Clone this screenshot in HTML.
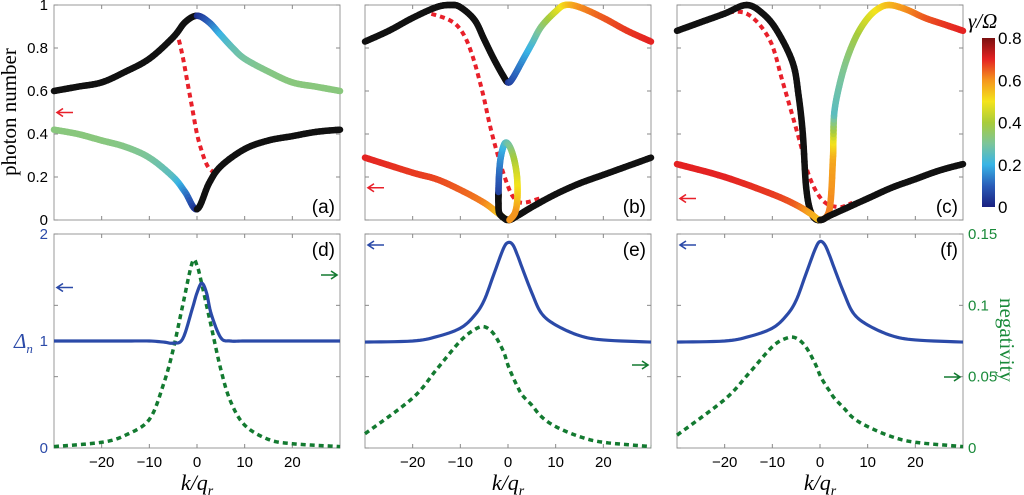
<!DOCTYPE html>
<html><head><meta charset="utf-8">
<style>
html,body{margin:0;padding:0;background:#fff;}
svg{display:block;}
text{font-family:"Liberation Sans",sans-serif;}
.serif{font-family:"Liberation Serif",serif;}
</style></head>
<body>
<svg id="fig" width="1024" height="495" viewBox="0 0 1024 495" xmlns="http://www.w3.org/2000/svg">
<defs>
<linearGradient id="cbgrad" x1="0" y1="1" x2="0" y2="0">
<stop offset="0" stop-color="#1a2080"/><stop offset="0.125" stop-color="#2a5cb8"/><stop offset="0.25" stop-color="#38b4e6"/><stop offset="0.375" stop-color="#7cc59a"/><stop offset="0.5" stop-color="#a8cc3a"/><stop offset="0.625" stop-color="#f4e41c"/><stop offset="0.75" stop-color="#f5961e"/><stop offset="0.875" stop-color="#e42222"/><stop offset="1" stop-color="#7a1010"/>
</linearGradient>
</defs>
<g id="layer"></g>
<text class="serif" x="16" y="112" font-size="21" text-anchor="middle" transform="rotate(-90 16 112)">photon number</text>
<text class="serif" x="14" y="348" font-size="21" fill="#2b4aa8" font-style="italic">Δ<tspan font-size="13" dy="5">n</tspan></text>
<text class="serif" x="1000" y="340" font-size="21" fill="#1a8a3a" text-anchor="middle" transform="rotate(90 1000 340)">negativity</text>
<text class="serif" x="968" y="28" font-size="21" font-style="italic">γ/Ω</text>
<rect x="982" y="38" width="13" height="169" fill="url(#cbgrad)"/>
</svg>
<script>
// ---------- data ----------
const xTicks=[-20,-10,0,10,20];
const yTicksTop=[0,0.2,0.4,0.6,0.8,1];
const yTicksLeftBottom=[0,1,2];
const yTicksRightBottom=[0,0.05,0.1,0.15];
const cbTicks=[0,0.2,0.4,0.6,0.8];
// panel (a)
const aUpK=[-30,-25,-20,-15,-10,-5,-2.5,0,2.5,5,7.5,10,15,20,25,30];
const aUpN=[.60,.62,.64,.69,.75,.85,.92,.95,.92,.86,.80,.75,.69,.64,.62,.60];
const aUpG=[null,null,null,null,null,null,null,.02,.1,.2,.26,.29,.32,.33,.33,.33];
const aLoK=[-30,-25,-20,-15,-10,-5,-2.5,0,2.5,5,10,15,20,25,30];
const aLoN=[.42,.40,.37,.34,.29,.2,.13,.05,.17,.25,.33,.37,.39,.41,.42];
const aLoG=[.33,.33,.33,.32,.3,.25,.15,.02,null,null,null,null,null,null,null];
const aDK=[-4.9,-4,-3,-2,-1,0,1,2,3,4.2];
const aDN=[.87,.85,.76,.64,.52,.40,.32,.26,.23,.22];
// panel (b)
const bUpK=[-30,-25,-20,-15,-12,-10,-7,-5,-3,-1,0,1,3,5,7,10,12,15,20,25,30];
const bUpN=[.83,.88,.94,.99,1,.99,.93,.84,.75,.67,.64,.66,.74,.82,.9,.97,1,.99,.94,.88,.83];
const bUpG=[null,null,null,null,null,null,null,null,null,null,.03,.08,.15,.22,.32,.45,.52,.6,.65,.68,.7];
const bLoK=[-30,-20,-15,-10,-5,-2,0,2,5,10,15,20,25,30];
const bLoN=[.29,.22,.19,.14,.08,.03,0,.02,.06,.12,.17,.21,.25,.29];
const bLoG=[.7,.68,.67,.65,.62,.55,.5,null,null,null,null,null,null,null];
const bLpK=[-0.3,-1.8,-2.0,-2.0,-2.0,-1.9,-1.6,-1.0,-0.4,0.4,1.2,1.8,2.0,1.9,1.4,0.3];
const bLpN=[0,0.03,0.08,0.11,0.13,0.2,0.28,0.34,0.36,0.34,0.29,0.22,0.15,0.08,0.03,0];
const bLpG=[null,null,null,null,.05,.1,.15,.2,.25,.3,.38,.45,.5,.55,.6,.6];
const bDK=[-17.9,-12.3,-9.5,-7.4,-5.3,-3.9,-2.5,-0.7,1,3,6.6];
const bDN=[.97,.93,.87,.76,.59,.45,.33,.2,.11,.08,.1];
// panel (c)
const cUpK=[-30,-25,-20,-15.4,-12,-9,-5.7,-4.5,-3.6,-2.9,-1.8,0,2,2.7,2.8,3,4,5.5,7.5,9.7,12,14.5,18,22,26,30];
const cUpN=[.88,.92,.96,1,.96,.88,.73,.58,.4,.15,.03,0,.05,.28,.37,.5,.62,.74,.85,.93,.98,1,.98,.94,.91,.88];
const cUpG=[null,null,null,null,null,null,null,null,null,null,null,.62,.62,.58,.5,.25,.28,.32,.38,.45,.5,.55,.6,.65,.68,.7];
const cLoK=[-30,-20,-10,-5,-2,0,2,5,10,15,20,25,30];
const cLoN=[.26,.2,.12,.07,.03,0,.02,.05,.1,.15,.19,.23,.26];
const cLoG=[.7,.7,.68,.65,.58,.55,null,null,null,null,null,null,null];
const cDK=[-21,-15.4,-10.6,-7.8,-4.3,-2.2,0.6,4,6.8];
const cDN=[.96,.96,.84,.64,.37,.2,.09,.06,.08];
// bottom panels
const botK=[-30,-20,-15,-10,-7,-5,-3,-1,0,1,2,3,5,7,10,15,20,30];
const dDelta=[1,1,1,1,.99,.98,1.02,1.3,1.45,1.54,1.45,1.25,1.03,1.0,1,1,1,1];
const eDelta=[.99,1.0,1.04,1.12,1.24,1.38,1.62,1.86,1.92,1.9,1.8,1.68,1.45,1.26,1.15,1.05,1.01,.99];
const fDelta=[.99,1.0,1.04,1.12,1.24,1.38,1.62,1.86,1.93,1.9,1.8,1.68,1.45,1.26,1.15,1.05,1.01,.99];
const dNeg=[.001,.004,.009,.02,.045,.069,.1,.13,.128,.115,.1,.085,.055,.033,.016,.006,.003,.001];
const eNeg=[.01,.035,.055,.075,.083,.085,.08,.068,.058,.05,.043,.037,.03,.022,.015,.008,.004,.001];
const fNeg=[.009,.034,.052,.071,.077,.077,.071,.059,.051,.045,.04,.035,.028,.021,.015,.008,.004,.001];

// ---------- helpers ----------
const NS="http://www.w3.org/2000/svg";
const layer=document.getElementById('layer');
const colX=[54,365,677], W=286;
const TOP={y0:220,y1:5}, BOT={y0:448,y1:234};
function xS(c,k){return colX[c]+(k+30)/60*W;}
function yTop(n){return TOP.y0-n*(TOP.y0-TOP.y1);}
function yDel(v){return BOT.y0-v/2*(BOT.y0-BOT.y1);}
function yNeg(v){return BOT.y0-v/0.15*(BOT.y0-BOT.y1);}
function mk(tag,attrs,parent){const e=document.createElementNS(NS,tag);for(const a in attrs)e.setAttribute(a,attrs[a]);(parent||layer).appendChild(e);return e;}
const stops=[[0,[26,32,128]],[.1,[42,92,184]],[.2,[56,180,230]],[.3,[124,197,154]],[.4,[168,204,58]],[.5,[244,228,28]],[.6,[245,150,30]],[.7,[228,34,34]],[.8,[122,16,16]]];
function cmap(g){g=Math.max(0,Math.min(.8,g));for(let i=1;i<stops.length;i++){if(g<=stops[i][0]){const a=stops[i-1],b=stops[i],t=(g-a[0])/(b[0]-a[0]);return 'rgb('+a[1].map((v,j)=>Math.round(v+(b[1][j]-v)*t)).join(',')+')';}}return 'rgb(122,16,16)';}
// Catmull-Rom in pixel space
function smooth(P,S){
  const out=[];
  for(let i=0;i<P.length-1;i++){
    const p0=P[Math.max(0,i-1)],p1=P[i],p2=P[i+1],p3=P[Math.min(P.length-1,i+2)];
    for(let s=0;s<S;s++){
      const t=s/S,t2=t*t,t3=t2*t;
      const f=(a,b,c,d)=>0.5*((2*b)+(-a+c)*t+(2*a-5*b+4*c-d)*t2+(-a+3*b-3*c+d)*t3);
      out.push({x:f(p0[0],p1[0],p2[0],p3[0]),y:f(p0[1],p1[1],p2[1],p3[1]),seg:i,t:t});
    }
  }
  const L=P[P.length-1];out.push({x:L[0],y:L[1],seg:P.length-2,t:1});
  return out;
}
function branch(c,K,N,G,name){
  const g=mk('g',{});
  
  
  const P=K.map((k,i)=>[xS(c,k),yTop(N[i])]);
  const D=smooth(P,8);
  for(let j=0;j<D.length-1;j++){
    const a=D[j],b=D[j+1],i=a.seg;
    let col;
    if(G[i]===null||G[i+1]===null) col='#111';
    else col=cmap(G[i]+(G[i+1]-G[i])*(a.t+0.0625));
    const l=mk('line',{x1:a.x.toFixed(2),y1:a.y.toFixed(2),x2:b.x.toFixed(2),y2:b.y.toFixed(2),stroke:col,'stroke-width':6.5,'stroke-linecap':'round'},g);
    
    
  }
}
function pathFrom(c,K,N,yf){
  const D=smooth(K.map((k,i)=>[xS(c,k),yf(N[i])]),8);
  return D.map(p=>p.x.toFixed(2)+','+p.y.toFixed(2)).join(' ');
}
function dashed(c,K,N,yf,color,name,w){
  const p=mk('polyline',{points:pathFrom(c,K,N,yf),fill:'none',stroke:color,'stroke-width':w||4,'stroke-dasharray':'5 4'});
  
  
}
function solid(c,K,N,yf,color,name){
  const p=mk('polyline',{points:pathFrom(c,K,N,yf),fill:'none',stroke:color,'stroke-width':3.2,'stroke-linejoin':'round'});
  
  
}
function frame(c,yt,yb,name){
  const r=mk('rect',{x:colX[c],y:yt,width:W,height:yb-yt,fill:'none',stroke:'#999','stroke-width':1});
  
  
  xTicks.forEach(t=>{const x=xS(c,t);mk('line',{x1:x,x2:x,y1:yb,y2:yb-4,stroke:'#888'});mk('line',{x1:x,x2:x,y1:yt,y2:yt+4,stroke:'#888'});});
}
function arrow(x,y,dir,color,name){
  const d=dir<0?`M${x+16},${y} L${x},${y} M${x+6},${y-4} L${x},${y} L${x+6},${y+4}`:`M${x-16},${y} L${x},${y} M${x-6},${y-4} L${x},${y} L${x-6},${y+4}`;
  const p=mk('path',{d:d,stroke:color,'stroke-width':1.6,fill:'none'});
  
  
}
function txt(x,y,s,attrs,name){const t=mk('text',Object.assign({x:x,y:y,'font-size':15},attrs||{}));t.textContent=s;return t;}

// ---------- top panels ----------
for(let c=0;c<3;c++){
  frame(c,TOP.y1,TOP.y0,'panel-frame-top-'+c);
  yTicksTop.forEach(v=>{const y=yTop(v);mk('line',{x1:colX[c],x2:colX[c]+4,y1:y,y2:y,stroke:'#888'});mk('line',{x1:colX[c]+W,x2:colX[c]+W-4,y1:y,y2:y,stroke:'#888'});});
}
yTicksTop.forEach(v=>txt(48,yTop(v)+5,String(v),{'text-anchor':'end'},'y-tick-label'));
dashed(0,aDK,aDN,yTop,'#e8202a','red-dashed-a');
branch(0,aUpK,aUpN,aUpG,'upper-branch-a');
branch(0,aLoK,aLoN,aLoG,'lower-branch-a');
dashed(1,bDK,bDN,yTop,'#e8202a','red-dashed-b');
branch(1,bUpK,bUpN,bUpG,'upper-branch-b');
branch(1,bLoK,bLoN,bLoG,'lower-branch-b');
branch(1,bLpK,bLpN,bLpG,'loop-branch-b');
dashed(2,cDK,cDN,yTop,'#e8202a','red-dashed-c');
branch(2,cUpK,cUpN,cUpG,'upper-branch-c');
branch(2,cLoK,cLoN,cLoG,'lower-branch-c');
arrow(57,yTop(0.5),-1,'#e8202a','arrow-a');
arrow(368,yTop(0.15),-1,'#e8202a','arrow-b');
arrow(680,yTop(0.1),-1,'#e8202a','arrow-c');
['(a)','(b)','(c)'].forEach((s,c)=>txt(colX[c]+W-5,213,s,{'text-anchor':'end','font-size':19},'panel-label-'+s[1]));

// ---------- bottom panels ----------
for(let c=0;c<3;c++){
  frame(c,BOT.y1,BOT.y0,'panel-frame-bottom-'+c);
  yTicksRightBottom.forEach(v=>{const y=yNeg(v);mk('line',{x1:colX[c],x2:colX[c]+4,y1:y,y2:y,stroke:'#888'});mk('line',{x1:colX[c]+W,x2:colX[c]+W-4,y1:y,y2:y,stroke:'#888'});});
  xTicks.forEach(t=>txt(xS(c,t),467,(t<0?'\u2212'+(-t):String(t)),{'text-anchor':'middle'},'x-tick-label'));
  const lab=txt(colX[c]+W/2,490,'',{'text-anchor':'middle','font-size':22,class:'serif','font-style':'italic'},'x-axis-title');
  lab.innerHTML='k/q<tspan font-size="14" dy="5">r</tspan>';
}
yTicksLeftBottom.forEach(v=>txt(48,yDel(v)+5,String(v),{'text-anchor':'end',fill:'#2b4aa8'},'left-tick-label'));
yTicksRightBottom.forEach(v=>txt(968,yNeg(v)+5,String(v),{fill:'#1a8a3a'},'right-tick-label'));
dashed(0,botK,dNeg,yNeg,'#137a30','negativity-d',3.5);
dashed(1,botK,eNeg,yNeg,'#137a30','negativity-e',3.5);
dashed(2,botK,fNeg,yNeg,'#137a30','negativity-f',3.5);
solid(0,botK,dDelta,yDel,'#2b4aa8','delta-n-d');
solid(1,botK,eDelta,yDel,'#2b4aa8','delta-n-e');
solid(2,botK,fDelta,yDel,'#2b4aa8','delta-n-f');
arrow(57,yDel(1.5),-1,'#2b4aa8','blue-arrow-d');
arrow(337,275,1,'#137a30','green-arrow-d');
arrow(368,245,-1,'#2b4aa8','blue-arrow-e');
arrow(648,365,1,'#137a30','green-arrow-e');
arrow(680,245,-1,'#2b4aa8','blue-arrow-f');
arrow(960,377,1,'#137a30','green-arrow-f');
['(d)','(e)','(f)'].forEach((s,c)=>txt(colX[c]+W-5,256,s,{'text-anchor':'end','font-size':19},'panel-label-'+s[1]));

// ---------- colorbar ticks ----------
cbTicks.forEach(v=>{const y=207-v/0.8*169;txt(998,y+6,String(v),{'font-size':17},'colorbar-tick-label');});
</script>
</body></html>
